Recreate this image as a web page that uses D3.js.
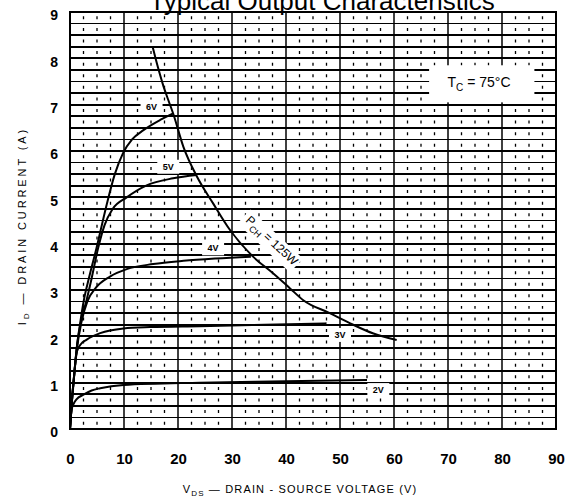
<!DOCTYPE html>
<html>
<head>
<meta charset="utf-8">
<script src="https://cdn.jsdelivr.net/npm/d3@7"></script>
<style>
  body { margin: 0; background: #fff; }
  svg { display: block; }
  text { font-family: "Liberation Sans", Arial, sans-serif; fill: #000; }
</style>
</head>
<body>
<div id="chart"></div>
<script>
// values (VDS in volts, ID in amps)
let xTicks = [0, 10, 20, 30, 40, 50, 60, 70, 80, 90];
let yTicks = [0, 1, 2, 3, 4, 5, 6, 7, 8, 9];

let gate6V = [[0, 0], [0.35, 0.6], [0.8, 1.2], [1.3, 1.8], [1.9, 2.3], [2.6, 2.8], [3.6, 3.3], [4.9, 3.9],
    [6.6, 4.75], [8.3, 5.5], [9.8, 5.95], [11.5, 6.25], [13.6, 6.45], [16.7, 6.67], [19.1, 6.81]];
let gate5V = [[0, 0], [0.35, 0.6], [0.8, 1.2], [1.3, 1.8], [2.0, 2.3], [3.0, 2.75], [4.0, 3.25], [5.2, 3.9],
    [6.4, 4.4], [7.9, 4.75], [10.5, 5.0], [14.2, 5.26], [19.1, 5.41], [23.5, 5.48]];
let gate4V = [[0, 0], [0.35, 0.6], [0.8, 1.2], [1.3, 1.75], [2.1, 2.3], [3.2, 2.75], [4.8, 3.05], [7.4, 3.29],
    [10.5, 3.45], [15.4, 3.56], [21, 3.63], [27, 3.68], [33.5, 3.72]];
let gate3V = [[0, 0], [0.3, 0.5], [0.7, 1.05], [1.0, 1.45], [1.3, 1.68], [2, 1.83], [3.1, 1.93], [5.6, 2.07],
    [9.9, 2.17], [14.8, 2.2], [24, 2.22], [36, 2.25], [47.5, 2.28]];
let gate2V = [[0, 0], [0.15, 0.25], [0.3, 0.42], [0.7, 0.55], [1.2, 0.64], [2.5, 0.74], [4, 0.83], [5.6, 0.88],
    [9.9, 0.95], [24, 1.0], [40, 1.03], [55, 1.06]];
let powerLimit = [[15.3, 8.25], [16.3, 7.8], [17.3, 7.4], [18.2, 7.1], [19.1, 6.81], [21.0, 6.09], [23.5, 5.45],
    [26.5, 4.87], [29.6, 4.30], [33.9, 3.72], [37.6, 3.36], [40.7, 3.04], [43.2, 2.78], [48.1, 2.50],
    [51.9, 2.28], [56.2, 2.06], [60.5, 1.92]];

let curveLabels = [
    { text: "6V", v: 15.1, i: 6.96 },
    { text: "5V", v: 18.2, i: 5.66 },
    { text: "4V", v: 26.5, i: 3.90 },
    { text: "3V", v: 50.0, i: 2.03 },
    { text: "2V", v: 57.1, i: 0.84 }
];

let margin = { top: 12, right: 13, bottom: 70, left: 70 };
let width = 569 - margin.left - margin.right;
let height = 499 - margin.top - margin.bottom;

let svg = d3.select('#chart')
    .append('svg')
        .attr('width', 569)
        .attr('height', 499);

let g = svg.append('g')
    .attr('transform', "translate(" + margin.left + "," + margin.top + ")");

let x = d3.scaleLinear().domain([0, 90]).range([0, width]);
let y = d3.scaleLinear().domain([0, 9]).range([height, 0]);

let cell = y(0) - y(0.25);

// horizontal grid every 0.25 A
g.append('g').selectAll('line')
    .data(d3.range(1, 36).map(function (k) { return k * 0.25; }))
    .enter().append('line')
        .attr('x1', 0).attr('x2', width)
        .attr('y1', function (d) { return y(d); })
        .attr('y2', function (d) { return y(d); })
        .attr('stroke', '#000')
        .attr('stroke-width', 1.8)
        .attr('shape-rendering', 'crispEdges');

// minor verticals, dotted (one tick per cell)
g.append('g').selectAll('line')
    .data(d3.range(1, 36).filter(function (k) { return k % 4 !== 0; }).map(function (k) { return k * 2.5; }))
    .enter().append('line')
        .attr('x1', function (d) { return x(d); })
        .attr('x2', function (d) { return x(d); })
        .attr('y1', 0).attr('y2', height)
        .attr('stroke', '#000')
        .attr('stroke-width', 1.3)
        .attr('stroke-dasharray', "3," + (cell - 3))
        .attr('stroke-dashoffset', -(cell / 2 - 1.5));

// major verticals
g.append('g').selectAll('line')
    .data(xTicks.slice(1, -1))
    .enter().append('line')
        .attr('x1', function (d) { return x(d); })
        .attr('x2', function (d) { return x(d); })
        .attr('y1', 0).attr('y2', height)
        .attr('stroke', '#000')
        .attr('stroke-width', 1.5);

// frame
g.append('rect')
    .attr('width', width)
    .attr('height', height)
    .attr('fill', 'none')
    .attr('stroke', '#000')
    .attr('stroke-width', 2);

// Tc box
let tcBox = g.append('g').attr('transform', "translate(" + x(66.5) + "," + y(7.85) + ")");
tcBox.append('rect')
    .attr('width', x(19.5))
    .attr('height', y(0) - y(0.8))
    .attr('fill', '#fff');
let tcText = tcBox.append('text')
    .attr('x', x(3.4))
    .attr('y', 22)
    .attr('font-size', '14px');
tcText.append('tspan').text('T');
tcText.append('tspan').attr('font-size', '10px').attr('dy', 4).text('C');
tcText.append('tspan').attr('dy', -4).text(' = 75°C');

let line = d3.line()
    .x(function (d) { return x(d[0]); })
    .y(function (d) { return y(d[1]); })
    .curve(d3.curveMonotoneX);

// label backgrounds
g.selectAll('.lblbg')
    .data(curveLabels)
    .enter().append('rect')
        .attr('class', 'lblbg')
        .attr('x', function (d) { return x(d.v) - 11; })
        .attr('y', function (d) { return y(d.i) - 7; })
        .attr('width', 22)
        .attr('height', 14)
        .attr('fill', '#fff');

let pLabel = g.append('g')
    .attr('transform', "translate(" + (245 - margin.left) + "," + (221 - margin.top) + ") rotate(43)");
pLabel.append('rect')
    .attr('x', -4).attr('y', -12)
    .attr('width', 72).attr('height', 19)
    .attr('fill', '#fff');

[gate2V, gate3V, gate4V, gate5V, gate6V, powerLimit].forEach(function (c) {
    g.append('path')
        .datum(c)
        .attr('d', line)
        .attr('fill', 'none')
        .attr('stroke', '#000')
        .attr('stroke-width', 2);
});

g.selectAll('.lbl')
    .data(curveLabels)
    .enter().append('text')
        .attr('class', 'lbl')
        .attr('x', function (d) { return x(d.v); })
        .attr('y', function (d) { return y(d.i); })
        .attr('dy', '0.35em')
        .attr('text-anchor', 'middle')
        .attr('font-size', '9px')
        .attr('font-weight', 'bold')
        .text(function (d) { return d.text; });

let pText = pLabel.append('text')
    .attr('x', 0).attr('y', 0)
    .attr('font-size', '12px');
pText.append('tspan').text('P');
pText.append('tspan').attr('font-size', '9px').attr('dy', 4).text('CH');
pText.append('tspan').attr('dy', -4).text(' = 125W');

// axes (labels only)
let xAxisGroup = g.append('g')
    .attr('transform', "translate(0," + height + ")")
    .call(d3.axisBottom(x).tickValues(xTicks).tickSize(0).tickPadding(24));
xAxisGroup.select('.domain').remove();
xAxisGroup.selectAll('text')
    .attr('font-family', '"Liberation Sans", Arial, sans-serif')
    .attr('font-size', '15px')
    .attr('font-weight', 'bold')
    .attr('fill', '#000');

let yAxisGroup = g.append('g')
    .call(d3.axisLeft(y).tickValues(yTicks).tickSize(0).tickPadding(12));
yAxisGroup.select('.domain').remove();
yAxisGroup.selectAll('text')
    .attr('font-family', '"Liberation Sans", Arial, sans-serif')
    .attr('font-size', '14px')
    .attr('font-weight', 'bold')
    .attr('dy', '0.55em')
    .attr('fill', '#000');

// title (cut at the top edge, as in the scan)
svg.append('text')
    .attr('x', 322)
    .attr('y', 10)
    .attr('text-anchor', 'middle')
    .attr('font-size', '26px')
    .text('Typical Output Characteristics');

// X label
let xLabel = svg.append('text')
    .attr('x', 300)
    .attr('y', 493)
    .attr('text-anchor', 'middle')
    .attr('font-size', '11px')
    .attr('letter-spacing', '1.15px');
xLabel.append('tspan').text('V');
xLabel.append('tspan').attr('font-size', '8px').attr('dy', 3).text('DS');
xLabel.append('tspan').attr('dy', -3).text(' — DRAIN - SOURCE VOLTAGE  (V)');

// Y label
let yLabel = svg.append('text')
    .attr('transform', "translate(26,226) rotate(-90)")
    .attr('text-anchor', 'middle')
    .attr('font-size', '11px')
    .attr('letter-spacing', '2.9px');
yLabel.append('tspan').text('I');
yLabel.append('tspan').attr('font-size', '8px').attr('dy', 3).text('D');
yLabel.append('tspan').attr('dy', -3).text(' — DRAIN CURRENT  (A)');
</script>
</body>
</html>
